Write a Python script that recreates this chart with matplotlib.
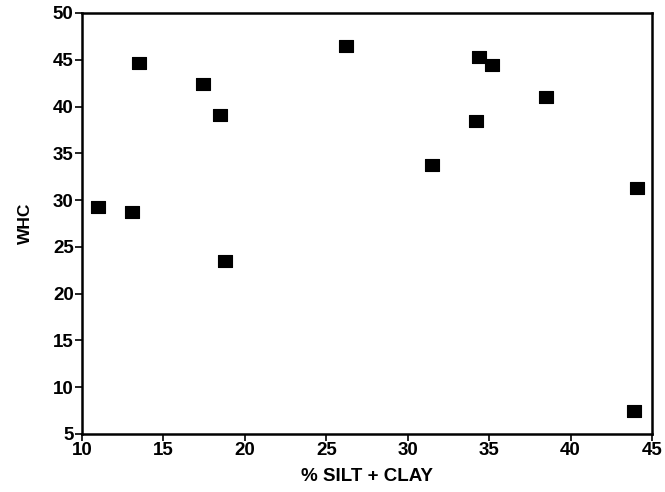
import matplotlib
matplotlib.use("Agg")
import matplotlib.pyplot as plt

# % silt + clay vs water holding capacity
silt_clay = [11.0, 13.1, 13.5, 17.4, 18.5, 18.8, 26.2, 31.5, 34.2, 34.4, 35.2, 38.5, 44.1, 43.9]
whc = [29.3, 28.7, 44.7, 42.4, 39.1, 23.5, 46.5, 33.7, 38.5, 45.3, 44.4, 41.0, 31.3, 7.5]

x_ticks = [10, 15, 20, 25, 30, 35, 40, 45]
y_ticks = [5, 10, 15, 20, 25, 30, 35, 40, 45, 50]

plt.rcParams["font.family"] = ["Liberation Sans", "DejaVu Sans"]
plt.rcParams["font.weight"] = "bold"

fig = plt.figure(figsize=(6.65, 4.92), dpi=100, facecolor="white")
ax = fig.add_axes([0.1233, 0.1179, 0.8572, 0.8557])

# slightly wide square markers, like the scan
rect = [(-1.15, -1), (1.15, -1), (1.15, 1), (-1.15, 1), (-1.15, -1)]
ax.scatter(silt_clay, whc, marker=rect, s=100, color="black",
           linewidths=0.8, edgecolors="black", zorder=3)

ax.set_xlim(10, 45)
ax.set_ylim(5, 50)
ax.set_xticks(x_ticks)
ax.set_yticks(y_ticks)
ax.tick_params(direction="out", length=5, width=1.2, labelsize=13.5,
               pad=1, colors="black")
for lbl in ax.get_xticklabels() + ax.get_yticklabels():
    lbl.set_fontweight("bold")

for spine in ax.spines.values():
    spine.set_linewidth(1.8)
    spine.set_color("black")

ax.set_xlabel("% SILT + CLAY", fontsize=13.5, fontweight="bold", labelpad=6)
ax.set_ylabel("WHC", fontsize=12.5, fontweight="bold", labelpad=14)

fig.savefig("out.png", dpi=100, facecolor="white")
